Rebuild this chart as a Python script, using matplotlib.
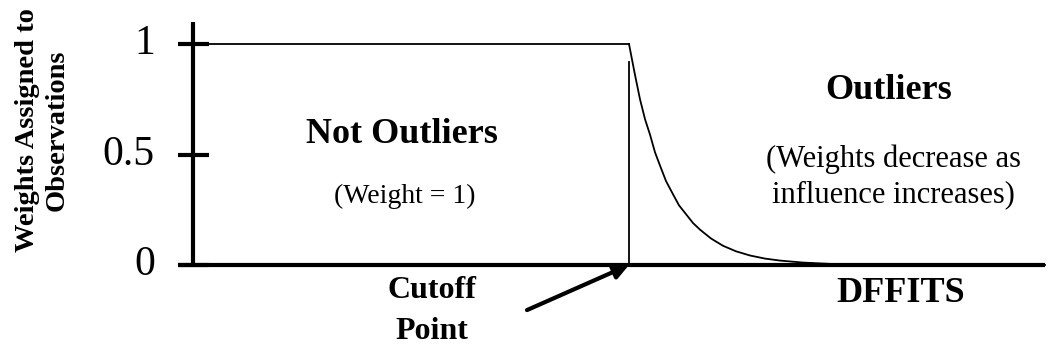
import matplotlib
matplotlib.use('Agg')
import matplotlib.pyplot as plt

plt.rcParams['font.family'] = ['Liberation Serif', 'DejaVu Serif']

# weight curve (x in DFFITS units, y = weight)
cutoff = 4.36
flat_x = [0.0, 4.36]
flat_w = [1.0, 1.0]
decay_x = [4.36, 4.39, 4.42, 4.47, 4.52, 4.57, 4.62, 4.67, 4.73, 4.80, 4.86, 4.93,
           5.00, 5.07, 5.18, 5.30, 5.43, 5.57, 5.72, 5.87, 6.10, 6.37, 6.60, 6.87, 8.52]
decay_w = [1.0, 0.93, 0.86, 0.75, 0.66, 0.59, 0.51, 0.45, 0.38, 0.32, 0.27, 0.23,
           0.19, 0.16, 0.12, 0.087, 0.062, 0.043, 0.029, 0.02, 0.011, 0.005, 0.003, 0.001, 0.0]
cutoff_top = 0.92
yticks = [0, 0.5, 1]
ytick_labels = ['0', '0.5', '1']

fig = plt.figure(figsize=(10.57, 3.54), dpi=100)
ax = fig.add_axes([193 / 1057, 1 - 265 / 354, 852 / 1057, 221 / 354])
ax.set_xlim(0, 8.52)
ax.set_ylim(0, 1)
ax.axis('off')

# curve
ax.plot(flat_x, flat_w, color='black', lw=1.3, clip_on=False)
ax.plot(decay_x, decay_w, color='black', lw=1.3, clip_on=False)
ax.plot([cutoff, cutoff], [0, cutoff_top], color='black', lw=1.3, clip_on=False)

# axes lines
ax.plot([0, 0], [0, 1.1], color='black', lw=3, clip_on=False, solid_capstyle='butt')
ax.plot([-0.15, 8.52], [0, 0], color='black', lw=3, clip_on=False, solid_capstyle='butt')
for t, lab in zip(yticks, ytick_labels):
    ax.plot([-0.15, 0.16], [t, t], color='black', lw=3, clip_on=False, solid_capstyle='butt')
    ax.text(-0.38, t, lab, ha='right', va='center', fontsize=30)

# annotations
ax.text(2.09, 0.59, 'Not Outliers', ha='center', va='center', fontsize=26, fontweight='bold')
ax.text(2.12, 0.31, '(Weight = 1)', ha='center', va='center', fontsize=20)
ax.text(6.96, 0.79, 'Outliers', ha='center', va='center', fontsize=26, fontweight='bold')
ax.text(7.0, 0.40, '(Weights decrease as\ninfluence increases)', ha='center', va='center',
        fontsize=22, linespacing=1.3)
ax.text(2.39, -0.21, 'Cutoff\nPoint', ha='center', va='center', fontsize=23,
        fontweight='bold', linespacing=1.55)
ax.text(7.08, -0.13, 'DFFITS', ha='center', va='center', fontsize=26, fontweight='bold')

ax.annotate('', xy=(cutoff, 0), xytext=(3.34, -0.204),
            arrowprops=dict(arrowstyle='-|>', color='black', lw=3, mutation_scale=22,
                            shrinkA=0, shrinkB=0),
            annotation_clip=False)

fig.text(42 / 1057, 1 - 130 / 354, 'Weights Assigned to\nObservations', rotation=90,
         ha='center', va='center', fontsize=20.5, fontweight='bold', linespacing=1.25)

fig.savefig('out.png', dpi=100)
